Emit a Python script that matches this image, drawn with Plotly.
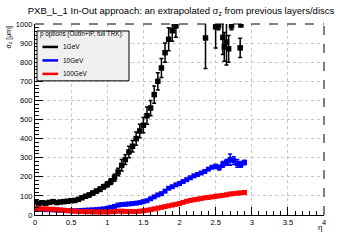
import plotly.graph_objects as go

eta_step = 0.05
# 1 GeV (black)
eta_1 = [round(i * eta_step, 2) for i in range(40)] + [2.36, 2.50, 2.54, 2.60, 2.62, 2.65, 2.68, 2.72, 2.84, 2.85]
sig_1 = [68, 62, 64, 62, 66, 70, 65, 68, 70, 72,
         75, 76, 82, 90, 98, 105, 115, 125, 135, 148,
         160, 175, 195, 225, 260, 290, 330, 360, 400, 440,
         470, 520, 560, 630, 700, 770, 850, 920, 965, 990,
         927, 985, 990, 930, 880, 905, 870, 990, 875, 995]
err_1 = [6, 6, 6, 6, 6, 6, 6, 6, 6, 6,
         6, 7, 7, 8, 8, 9, 10, 10, 12, 12,
         14, 15, 18, 20, 30, 25, 30, 30, 35, 35,
         40, 45, 40, 45, 45, 50, 50, 60, 55, 60,
         160, 110, 20, 90, 75, 120, 70, 20, 50, 8]

# 10 GeV (blue)
eta_10 = [round(i * eta_step, 2) for i in range(59)]
sig_10 = [30, 30, 29, 28, 28, 27, 26, 25, 24, 23,
          22, 22, 23, 24, 25, 26, 27, 28, 30, 32,
          35, 40, 45, 52, 55, 56, 58, 60, 62, 65,
          70, 75, 85, 95, 105, 112, 125, 140, 148, 158,
          165, 175, 185, 195, 205, 212, 220, 228, 240, 250,
          255, 248, 265, 275, 290, 285, 270, 265, 275]
err_10 = [3] * 30 + [4] * 10 + [5] * 10 + [10, 12, 15, 15, 30, 20, 20, 15, 12]

# 100 GeV (red)
eta_100 = [round(i * eta_step, 2) for i in range(59)]
sig_100 = [35, 34, 32, 32, 30, 30, 28, 26, 25, 23,
           22, 20, 19, 18, 18, 17, 17, 16, 16, 16,
           16, 17, 18, 20, 20, 19, 18, 18, 18, 20,
           22, 25, 28, 32, 36, 40, 44, 48, 52, 56,
           60, 66, 72, 76, 80, 83, 86, 90, 92, 95,
           98, 100, 103, 106, 110, 112, 114, 116, 118]
err_100 = [2] * 59

series_names = ["1GeV", "10GeV", "100GeV"]
series_colors = ["black", "rgb(0,0,255)", "rgb(255,0,0)"]
legend_header = "p options (OutIn+IP, full TRK):"
title_text = "PXB_L_1 In-Out approach: an extrapolated σ<sub>z</sub> from previous layers/discs"

FONT = "Liberation Sans, Arial, sans-serif"

fig = go.Figure()
for xs, ys, es, col, ms in [(eta_1, sig_1, err_1, series_colors[0], 5.5),
                            (eta_10, sig_10, err_10, series_colors[1], 5),
                            (eta_100, sig_100, err_100, series_colors[2], 5)]:
    fig.add_trace(go.Scatter(
        x=xs, y=ys, mode="markers",
        marker=dict(symbol="square", size=ms, color=col, line=dict(width=0)),
        error_y=dict(type="data", array=es, color=col, thickness=1.5, width=2),
        showlegend=False, cliponaxis=True))

L, R, T, B = 35, 36, 24, 24.5
W, H = 360, 240
pw, ph = W - L - R, H - T - B

def px2paper_x(px):
    return (px - L) / pw

def px2paper_y(py):
    return (H - B - py) / ph

shapes = [
    dict(type="line", xref="paper", yref="paper", x0=0, x1=1, y0=1, y1=1,
         line=dict(color="black", width=1, dash="dash")),
    dict(type="line", xref="paper", yref="paper", x0=1, x1=1, y0=0, y1=1,
         line=dict(color="black", width=1, dash="dash")),
    dict(type="rect", xref="paper", yref="paper",
         x0=px2paper_x(37), x1=px2paper_x(129), y0=px2paper_y(81), y1=px2paper_y(31),
         fillcolor="rgb(240,240,240)", line=dict(color="black", width=1)),
]
annotations = [
    dict(text=legend_header, xref="paper", yref="paper", x=px2paper_x(37.5), y=px2paper_y(34.5),
         xanchor="left", yanchor="middle", showarrow=False,
         font=dict(family=FONT, size=6.3, color="black")),
]
ys_leg = [47, 60.5, 74]
for name, col, yy in zip(series_names, series_colors, ys_leg):
    shapes.append(dict(type="line", xref="paper", yref="paper",
                       x0=px2paper_x(42.5), x1=px2paper_x(58), y0=px2paper_y(yy), y1=px2paper_y(yy),
                       line=dict(color=col, width=2.5)))
    annotations.append(dict(text=name, xref="paper", yref="paper", x=px2paper_x(61), y=px2paper_y(yy),
                            xanchor="left", yanchor="middle", showarrow=False,
                            font=dict(family=FONT, size=6.5, color="black")))

annotations.append(dict(text="σ<sub>z</sub> [µm]", xref="paper", yref="paper", x=px2paper_x(8), y=1.0,
                        xanchor="center", yanchor="top", textangle=-90, showarrow=False,
                        font=dict(family=FONT, size=7, color="black")))
annotations.append(dict(text="η", xref="paper", yref="paper", x=px2paper_x(320), y=px2paper_y(228),
                        xanchor="center", yanchor="middle", showarrow=False,
                        font=dict(family=FONT, size=8, color="black")))

fig.update_layout(
    width=W, height=H,
    margin=dict(l=L, r=R, t=T, b=B, pad=0),
    paper_bgcolor="white", plot_bgcolor="white",
    showlegend=False,
    title=dict(text=title_text, x=181 / W, y=1 - 11 / H, xref="container", yref="container",
               xanchor="center", yanchor="middle",
               font=dict(family=FONT, size=9.5, color="black")),
    shapes=shapes, annotations=annotations,
    font=dict(family=FONT, size=7.5, color="black"),
)
fig.update_xaxes(range=[0, 4], dtick=0.5, tick0=0, ticks="inside", ticklen=8, tickwidth=1,
                 tickcolor="black", showline=True, linecolor="black", linewidth=1,
                 showgrid=True, gridcolor="rgb(200,200,200)", griddash="dot", gridwidth=1,
                 zeroline=False, tickfont=dict(size=7.5),
                 minor=dict(dtick=0.1, ticks="inside", ticklen=4, tickcolor="black", showgrid=False))
fig.update_yaxes(range=[0, 1000], dtick=100, tick0=0, ticks="inside", ticklen=8, tickwidth=1,
                 tickcolor="black", showline=True, linecolor="black", linewidth=1,
                 showgrid=True, gridcolor="rgb(200,200,200)", griddash="dot", gridwidth=1,
                 zeroline=False, tickfont=dict(size=7.5),
                 minor=dict(dtick=20, ticks="inside", ticklen=4, tickcolor="black", showgrid=False))

fig.write_html("out.html")
